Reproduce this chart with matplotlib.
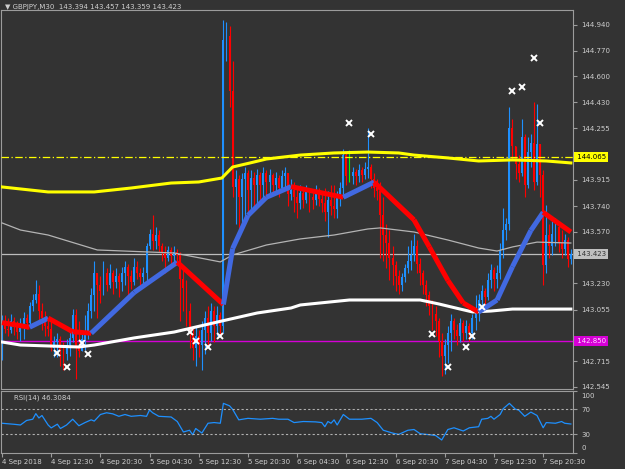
import matplotlib

matplotlib.use("Agg")
import matplotlib.pyplot as plt
import numpy as np

# GBPJPY M30 candles (one value per bar, open = previous close)
first_open = 142.95
closes = [
    142.98, 142.93, 142.92, 142.98, 142.94, 142.91, 142.96, 143.00, 142.97, 143.08,
    143.12, 143.16, 143.05, 143.00, 142.95, 142.93, 142.80, 142.84, 142.86, 142.78,
    142.76, 142.82, 142.87, 143.02, 142.80, 142.78, 142.86, 142.90, 143.05, 143.15,
    143.30, 143.22, 143.18, 143.30, 143.22, 143.30, 143.24, 143.28, 143.24, 143.30,
    143.34, 143.28, 143.24, 143.34, 143.30, 143.27, 143.30, 143.48, 143.56, 143.51,
    143.55, 143.48, 143.44, 143.40, 143.45, 143.41, 143.44, 143.42, 143.26, 143.20,
    143.05, 142.90, 142.80, 142.88, 142.82, 142.92, 143.00, 142.90, 143.05, 142.95,
    143.02, 142.95, 144.84, 144.87, 144.50, 143.87, 143.92, 143.80, 143.92, 143.96,
    143.85, 143.93, 143.88, 143.95, 143.88, 143.96, 143.90, 143.95, 143.88, 143.93,
    143.86, 143.94, 143.96, 143.82, 143.85, 143.80, 143.76, 143.83, 143.78, 143.84,
    143.80, 143.78, 143.84, 143.79, 143.76, 143.70, 143.78, 143.74, 143.72, 143.80,
    143.86, 144.08, 143.94, 143.94, 143.97, 143.94, 143.98, 143.95, 143.99, 144.00,
    143.92, 143.86, 143.84, 143.68, 143.55, 143.50, 143.40, 143.35, 143.28, 143.22,
    143.27, 143.33, 143.38, 143.42, 143.48, 143.36, 143.30, 143.22, 143.15, 143.08,
    143.03, 142.98, 142.85, 142.75, 142.82, 142.90, 142.98, 142.92, 142.88, 142.97,
    142.90, 142.95, 142.90, 143.00, 143.05, 143.12, 143.18, 143.14, 143.25, 143.32,
    143.26, 143.30, 143.45, 143.58, 143.62, 144.26, 144.14, 144.02, 143.96, 144.20,
    143.88, 144.10, 144.16, 143.90, 144.15, 143.95, 143.35, 143.55, 143.48, 143.56,
    143.60, 143.50, 143.46, 143.52, 143.394, 143.423,
]
highs = [
    143.02, 143.02, 143.00, 143.03, 143.01, 142.98, 143.00, 143.04, 143.03, 143.11,
    143.16, 143.25, 143.22, 143.10, 143.05, 143.00, 143.00, 142.88, 142.90, 142.88,
    142.84, 142.86, 142.92, 143.06, 143.06, 142.98, 142.92, 143.02, 143.10, 143.20,
    143.38, 143.30, 143.28, 143.38, 143.33, 143.36, 143.32, 143.33, 143.30, 143.34,
    143.38, 143.36, 143.32, 143.40, 143.38, 143.33, 143.34, 143.50, 143.59, 143.68,
    143.60, 143.58, 143.50, 143.48, 143.48, 143.47, 143.48, 143.46, 143.44, 143.32,
    143.25, 143.10, 142.95, 142.94, 142.92, 142.98, 143.05, 143.08, 143.10, 143.08,
    143.08, 143.04, 144.97, 144.96, 144.93, 144.70, 143.98, 143.95, 143.96, 144.00,
    143.98, 143.98, 143.97, 143.99, 143.97, 144.00, 143.98, 143.99, 143.96, 143.97,
    143.95, 143.98, 144.00, 143.96, 143.92, 143.90, 143.86, 143.88, 143.86, 143.88,
    143.86, 143.84, 143.88, 143.86, 143.82, 143.86, 143.84, 143.88, 143.88, 143.84,
    143.90, 144.12, 144.10, 144.11, 144.00, 143.99, 144.02, 144.00, 144.03, 144.26,
    144.02, 143.96, 143.92, 143.90, 143.80, 143.62, 143.58, 143.48, 143.38, 143.32,
    143.30, 143.36, 143.48, 143.52, 143.56, 143.52, 143.40, 143.32, 143.25, 143.18,
    143.12, 143.08, 143.00, 142.90, 142.86, 142.95, 143.03, 143.00, 142.96, 143.00,
    142.99, 142.99, 142.97, 143.03, 143.15, 143.16, 143.22, 143.20, 143.30, 143.36,
    143.34, 143.35, 143.50, 143.73, 143.66, 144.40, 144.32, 144.14, 144.08, 144.32,
    144.22, 144.20, 144.22, 144.43, 144.42, 144.10, 143.98, 143.75, 143.62, 143.64,
    143.66, 143.64, 143.58, 143.56, 143.54, 143.457,
]
lows = [
    142.72, 142.90, 142.88, 142.90, 142.89, 142.86, 142.85, 142.86, 142.93, 142.95,
    143.05, 143.10, 142.98, 142.92, 142.88, 142.88, 142.78, 142.74, 142.74, 142.68,
    142.66, 142.72, 142.75, 142.84, 142.60, 142.74, 142.78, 142.79, 142.86, 143.00,
    143.05, 143.00, 143.10, 143.15, 143.18, 143.20, 143.16, 143.20, 143.14, 143.18,
    143.22, 143.15, 143.19, 143.22, 143.26, 143.22, 143.22, 143.24, 143.46, 143.45,
    143.46, 143.44, 143.38, 143.30, 143.38, 143.34, 143.36, 143.36, 142.98, 143.05,
    142.95, 142.80, 142.72, 142.68, 142.74, 142.66, 142.76, 142.82, 142.85, 142.84,
    142.88, 142.88, 142.90, 144.70, 144.40, 143.80, 143.62, 143.55, 143.60, 143.65,
    143.68, 143.70, 143.72, 143.74, 143.76, 143.78, 143.79, 143.80, 143.82, 143.83,
    143.80, 143.84, 143.87, 143.74, 143.78, 143.70, 143.66, 143.72, 143.73, 143.76,
    143.70, 143.72, 143.75, 143.74, 143.70, 143.64, 143.54, 143.68, 143.66, 143.66,
    143.74, 143.80, 143.88, 143.90, 143.89, 143.88, 143.90, 143.90, 143.92, 143.93,
    143.86, 143.80, 143.78, 143.40, 143.38, 143.33, 143.25, 143.22, 143.18, 143.16,
    143.18, 143.24, 143.30, 143.32, 143.38, 143.30, 143.22, 143.16, 143.08, 143.02,
    142.92, 142.88, 142.74, 142.62, 142.63, 142.70, 142.78, 142.86, 142.82, 142.84,
    142.85, 142.86, 142.85, 142.86, 142.92, 142.98, 143.05, 143.08, 143.12, 143.20,
    143.18, 143.20, 143.26, 143.40, 143.52, 143.58, 144.05, 143.92, 143.90, 143.94,
    143.80, 143.86, 144.00, 143.85, 143.88, 143.80, 143.22, 143.30, 143.40, 143.42,
    143.48, 143.44, 143.40, 143.42, 143.34, 143.359,
]

# indicator lines (bar index, price)
yellow_bars = [0, 15, 30, 42, 55, 64, 71.5, 75, 80.5, 86, 97, 108, 119, 129, 134, 145, 155, 166, 177, 185]
yellow_vals = [143.868, 143.835, 143.835, 143.861, 143.894, 143.901, 143.927, 144.000, 144.026, 144.053,
               144.079, 144.093, 144.099, 144.093, 144.079, 144.060, 144.040, 144.047, 144.040, 144.027]
grey_bars = [0, 6, 15, 31, 56, 71, 75, 86, 97, 108, 119, 123, 134, 145, 155, 161, 166, 174, 185]
grey_vals = [143.630, 143.583, 143.550, 143.451, 143.431, 143.372, 143.418, 143.484, 143.524, 143.550,
             143.590, 143.597, 143.570, 143.517, 143.464, 143.444, 143.471, 143.503, 143.497]
white_bars = [0, 6, 25, 30, 43, 56, 71.5, 83, 94, 97, 113, 123, 136, 142, 149, 153, 159, 166, 185]
white_vals = [142.842, 142.822, 142.809, 142.822, 142.869, 142.908, 142.981, 143.034, 143.067, 143.087,
              143.120, 143.120, 143.120, 143.094, 143.060, 143.041, 143.047, 143.060, 143.060]
band_bars = [0, 9, 15, 23, 29, 43, 57, 72, 75, 80, 86, 94, 111, 121, 134, 139, 145, 150, 155, 161, 166, 172, 176, 185]
band_vals = [142.97, 142.94, 143.00, 142.91, 142.90, 143.17, 143.37, 143.09, 143.46, 143.68, 143.80, 143.87,
             143.80, 143.90, 143.65, 143.47, 143.25, 143.10, 143.04, 143.12, 143.34, 143.58, 143.70, 143.57]
fractal_bars = [18, 21, 26, 28, 61, 63, 67, 71, 113, 120, 140, 145, 151, 153, 156, 166, 169, 173, 175]
fractal_vals = [142.769, 142.677, 142.836, 142.763, 142.908, 142.849, 142.809, 142.882, 144.291, 144.219,
                142.895, 142.677, 142.809, 142.882, 143.074, 144.503, 144.530, 144.722, 144.291]

level_yellow = 144.065
level_last = 143.423
level_magenta = 142.850

price_ticks = [144.940, 144.770, 144.600, 144.430, 144.255, 143.915, 143.740, 143.570,
               143.230, 143.055, 142.715, 142.545]

rsi_bars = [0, 4, 6, 8, 10, 11, 12, 13, 15, 16, 18, 19, 21, 23, 25, 27, 29, 30, 32, 34, 36, 38, 40, 42,
            45, 47, 48, 49, 51, 55, 57, 59, 61, 62, 63, 65, 67, 69, 71, 72, 74, 75, 77, 80, 84, 88, 90,
            93, 95, 98, 102, 104, 105, 106, 107, 108, 109, 111, 113, 117, 120, 122, 124, 127, 129, 132,
            134, 136, 139, 141, 143, 145, 147, 150, 152, 155, 156, 158, 159, 160, 162, 163, 165, 167,
            168, 170, 172, 174, 176, 177, 180, 182, 183, 185]
rsi_vals = [47.5, 45.8, 44.7, 52, 54, 63, 56, 60, 44.7, 40, 46, 39, 44.7, 54, 43.5, 48.6, 53, 51, 61.6,
            64.4, 62.7, 58.7, 61.6, 58.7, 60, 58.7, 69, 64.4, 58.7, 57.6, 50.3, 33.4, 36.2, 29, 39, 31.7,
            47.5, 48.6, 47.5, 79.6, 75.6, 70, 53, 55.4, 54, 55.4, 54, 54, 48.6, 50.3, 49.7, 48.6, 41.9,
            50.3, 47.5, 53, 44.7, 61.6, 54, 54, 55.4, 48.6, 36.2, 31.7, 29.5, 36.2, 37.4, 30.6, 29, 27.8,
            20.5, 37.4, 40.2, 35, 40.2, 41.9, 54, 55.4, 58.7, 54, 61.6, 71, 79.6, 70, 69, 58.7, 65.5, 60,
            40.2, 48.6, 47.5, 50.3, 47.5, 46.3]

date_labels = ["4 Sep 2018", "4 Sep 12:30", "4 Sep 20:30", "5 Sep 04:30", "5 Sep 12:30", "5 Sep 20:30",
               "6 Sep 04:30", "6 Sep 12:30", "6 Sep 20:30", "7 Sep 04:30", "7 Sep 12:30", "7 Sep 20:30"]

BG = "#333333"
FRAME = "#9c9c9c"
TXT = "#cfcfcf"
BULL = "#1e90ff"
BEAR = "#ff0000"
DOJI = "#00ff00"
FS = 5.0

fig = plt.figure(figsize=(6.25, 4.69), dpi=100, facecolor=BG)
ax = fig.add_axes([1 / 625, 80 / 469, 572 / 625, 379 / 469], facecolor=BG)
rax = fig.add_axes([1 / 625, 16.3 / 469, 572 / 625, 62 / 469], facecolor=BG)

n = len(closes)
x = np.arange(n)
c = np.array(closes)
o = np.r_[first_open, c[:-1]]
h = np.array(highs)
l = np.array(lows)
cols = np.where(np.isclose(c, o), DOJI, np.where(c > o, BULL, BEAR))
top = np.maximum(h, np.maximum(o, c))
bot = np.minimum(l, np.minimum(o, c))

# horizontal levels below the candles
ax.axhline(level_last, color="#bdbdbd", lw=0.9, zorder=1)
ax.axhline(level_magenta, color="#d600d6", lw=1.0, zorder=1)

ax.vlines(x, bot, top, colors=cols, lw=0.8, zorder=2)
ax.bar(x, np.maximum(np.abs(c - o), 0.006), bottom=np.minimum(o, c), width=0.62,
       color=cols, lw=0, zorder=2)

ax.plot(grey_bars, grey_vals, color="#b4b4b4", lw=0.9, zorder=3)
ax.plot(white_bars, white_vals, color="white", lw=2.2, zorder=3)
ax.plot(yellow_bars, yellow_vals, color="#ffff00", lw=2.2, zorder=3)
ax.axhline(level_yellow, color="#ffff00", lw=0.9, ls=(0, (6, 2, 1, 2)), zorder=3)

# trend band: blue while rising, red while falling
for i in range(len(band_bars) - 1):
    col = "#4169e1" if band_vals[i + 1] >= band_vals[i] else BEAR
    ax.plot(band_bars[i:i + 2], band_vals[i:i + 2], color=col, lw=3.6,
            solid_capstyle="butt", zorder=4)

ax.plot(fractal_bars, fractal_vals, ls="none", marker="x", ms=4, mew=1.4, color="white", zorder=5)

xlim = (-0.325, 185.7)
ax.set_xlim(*xlim)
ax.set_ylim(142.531, 145.039)
ax.yaxis.tick_right()
ax.set_yticks(price_ticks, labels=[f"{t:.3f}" for t in price_ticks])
ax.tick_params(axis="y", colors=FRAME, labelcolor=TXT, labelsize=FS, length=3, width=0.8, pad=3)
ax.set_xticks([])
for s in ax.spines.values():
    s.set_color(FRAME)
    s.set_linewidth(0.8)

ytf = ax.get_yaxis_transform()
for val, fc, tc in [(level_yellow, "#ffff00", "black"), (level_last, "#c0c0c0", "#333333"),
                    (level_magenta, "#d600d6", "#ffd6ff")]:
    ax.text(1.004, val, f" {val:.3f}", transform=ytf, ha="left", va="center", fontsize=FS,
            color=tc, bbox=dict(boxstyle="square,pad=0.25", fc=fc, ec="none"), clip_on=False)

fig.text(5 / 625, 1 - 7 / 469, "\u25bc GBPJPY,M30  143.394 143.457 143.359 143.423",
         color=TXT, fontsize=FS, va="center", ha="left")

# RSI sub-window
rax.plot(rsi_bars, rsi_vals, color=BULL, lw=0.9)
rax.axhline(70, color="#b0b0b0", lw=0.8, ls=(0, (2, 2)))
rax.axhline(30, color="#b0b0b0", lw=0.8, ls=(0, (2, 2)))
rax.set_xlim(*xlim)
rax.set_ylim(0, 100)
rax.yaxis.tick_right()
rax.set_yticks([0, 30, 70, 100], labels=["", "30", "70", ""])
rax.tick_params(axis="y", colors=FRAME, labelcolor=TXT, labelsize=FS, length=3, width=0.8, pad=3)
rytf = rax.get_yaxis_transform()
rax.text(1.014, 91, "100", transform=rytf, ha="left", va="center", fontsize=FS, color=TXT)
rax.text(1.014, 7, "0", transform=rytf, ha="left", va="center", fontsize=FS, color=TXT)
rax.text(4, 88, "RSI(14) 46.3084", ha="left", va="center", fontsize=FS, color=TXT)
rax.set_xticks(np.arange(0, 16 * len(date_labels), 16), labels=date_labels)
rax.tick_params(axis="x", colors=FRAME, labelcolor=TXT, labelsize=FS, length=3, width=0.8, pad=1.5)
for lab in rax.get_xticklabels():
    lab.set_horizontalalignment("left")
for s in rax.spines.values():
    s.set_color(FRAME)
    s.set_linewidth(0.8)

fig.savefig("out.png", dpi=100, facecolor=BG)
